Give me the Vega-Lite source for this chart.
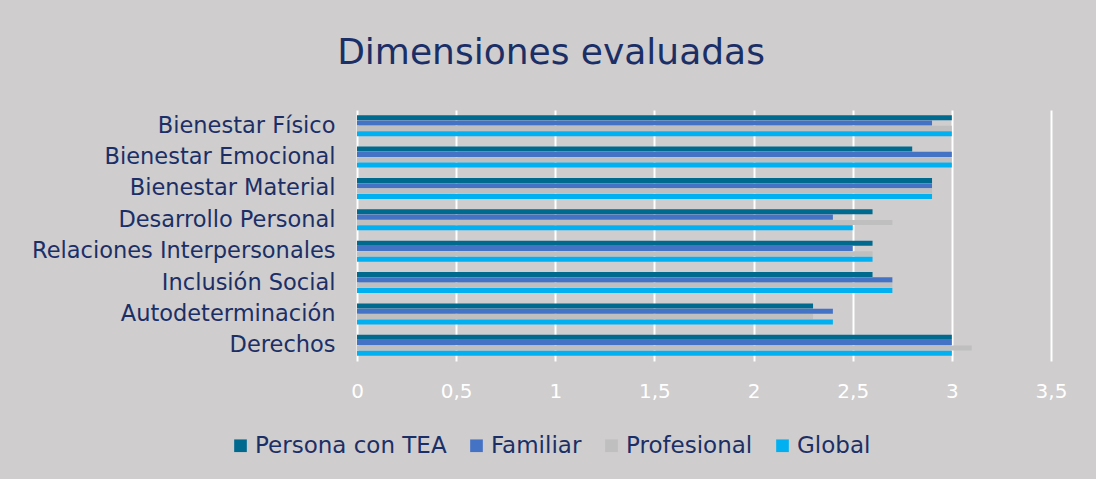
{
  "$schema": "https://vega.github.io/schema/vega-lite/v6.json",
  "autosize": "none",
  "width": 694,
  "height": 251,
  "padding": {"left": 357, "top": 110, "right": 45, "bottom": 118},
  "background": "#cfcdce",
  "title": {
    "text": "Dimensiones evaluadas",
    "font": "DejaVu Sans",
    "fontSize": 36,
    "fontWeight": "normal",
    "color": "#1b2f66",
    "anchor": "middle",
    "dx": -153,
    "offset": 38
  },
  "data": {
    "values": [
      {"dim": "Bienestar Físico", "serie": "Persona con TEA", "v": 3},
      {"dim": "Bienestar Físico", "serie": "Familiar", "v": 2.9},
      {"dim": "Bienestar Físico", "serie": "Profesional", "v": 3},
      {"dim": "Bienestar Físico", "serie": "Global", "v": 3},
      {"dim": "Bienestar Emocional", "serie": "Persona con TEA", "v": 2.8},
      {"dim": "Bienestar Emocional", "serie": "Familiar", "v": 3},
      {"dim": "Bienestar Emocional", "serie": "Profesional", "v": 3},
      {"dim": "Bienestar Emocional", "serie": "Global", "v": 3},
      {"dim": "Bienestar Material", "serie": "Persona con TEA", "v": 2.9},
      {"dim": "Bienestar Material", "serie": "Familiar", "v": 2.9},
      {"dim": "Bienestar Material", "serie": "Profesional", "v": 2.9},
      {"dim": "Bienestar Material", "serie": "Global", "v": 2.9},
      {"dim": "Desarrollo Personal", "serie": "Persona con TEA", "v": 2.6},
      {"dim": "Desarrollo Personal", "serie": "Familiar", "v": 2.4},
      {"dim": "Desarrollo Personal", "serie": "Profesional", "v": 2.7},
      {"dim": "Desarrollo Personal", "serie": "Global", "v": 2.5},
      {"dim": "Relaciones Interpersonales", "serie": "Persona con TEA", "v": 2.6},
      {"dim": "Relaciones Interpersonales", "serie": "Familiar", "v": 2.5},
      {"dim": "Relaciones Interpersonales", "serie": "Profesional", "v": 2.6},
      {"dim": "Relaciones Interpersonales", "serie": "Global", "v": 2.6},
      {"dim": "Inclusión Social", "serie": "Persona con TEA", "v": 2.6},
      {"dim": "Inclusión Social", "serie": "Familiar", "v": 2.7},
      {"dim": "Inclusión Social", "serie": "Profesional", "v": 2.7},
      {"dim": "Inclusión Social", "serie": "Global", "v": 2.7},
      {"dim": "Autodeterminación", "serie": "Persona con TEA", "v": 2.3},
      {"dim": "Autodeterminación", "serie": "Familiar", "v": 2.4},
      {"dim": "Autodeterminación", "serie": "Profesional", "v": 2.3},
      {"dim": "Autodeterminación", "serie": "Global", "v": 2.4},
      {"dim": "Derechos", "serie": "Persona con TEA", "v": 3},
      {"dim": "Derechos", "serie": "Familiar", "v": 3},
      {"dim": "Derechos", "serie": "Profesional", "v": 3.1},
      {"dim": "Derechos", "serie": "Global", "v": 3}
    ]
  },
  "mark": {"type": "bar"},
  "encoding": {
    "y": {
      "field": "dim",
      "type": "nominal",
      "sort": null,
      "scale": {"paddingInner": 0.33, "paddingOuter": 0.165},
      "axis": {
        "title": null,
        "labelFont": "DejaVu Sans",
        "labelFontSize": 22.5,
        "labelColor": "#1b2f66",
        "ticks": false,
        "domain": false,
        "labelPadding": 22,
        "labelLimit": 400
      }
    },
    "yOffset": {
      "field": "serie",
      "type": "nominal",
      "sort": ["Persona con TEA", "Familiar", "Profesional", "Global"],
      "scale": {"paddingInner": 0.05}
    },
    "x": {
      "field": "v",
      "type": "quantitative",
      "scale": {"domain": [0, 3.5], "nice": false},
      "axis": {
        "title": null,
        "values": [0, 0.5, 1, 1.5, 2, 2.5, 3, 3.5],
        "labelExpr": "replace(format(datum.value, '~g'), '.', ',')",
        "labelFont": "DejaVu Sans",
        "labelFontSize": 20,
        "labelColor": "#ffffff",
        "labelPadding": 20,
        "labelFlush": false,
        "ticks": false,
        "domain": false,
        "grid": true,
        "gridColor": "#ffffff",
        "gridWidth": 2,
        "gridOpacity": 1
      }
    },
    "color": {
      "field": "serie",
      "type": "nominal",
      "sort": ["Persona con TEA", "Familiar", "Profesional", "Global"],
      "scale": {
        "domain": ["Persona con TEA", "Familiar", "Profesional", "Global"],
        "range": ["#006a8e", "#4472c4", "#bfbfbf", "#00b0f0"]
      },
      "legend": {
        "title": null,
        "orient": "none",
        "direction": "horizontal",
        "legendX": -128,
        "legendY": 324,
        "symbolType": "square",
        "symbolSize": 160,
        "symbolStrokeWidth": 0,
        "labelFont": "DejaVu Sans",
        "labelFontSize": 23,
        "labelColor": "#1b2f66",
        "labelOffset": 3,
        "columnPadding": 18,
        "labelLimit": 300
      }
    }
  },
  "config": {
    "view": {"stroke": null}
  }
}
